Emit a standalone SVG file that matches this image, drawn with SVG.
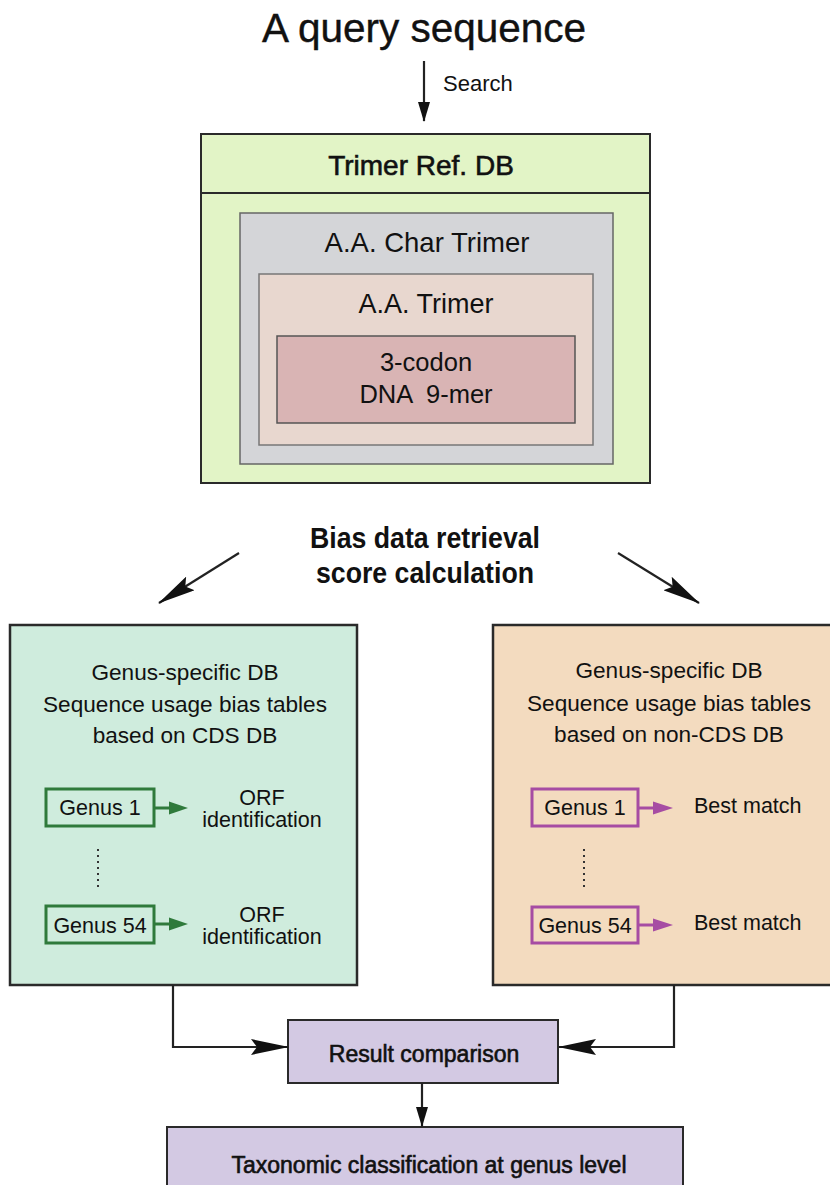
<svg xmlns="http://www.w3.org/2000/svg" width="830" height="1185" viewBox="0 0 830 1185">
<style>
text{font-family:"Liberation Sans",Arial,sans-serif;fill:#111;text-anchor:middle}
.b{font-weight:bold}
.m{stroke:#111;stroke-width:0.6}
.box{stroke:#2a2a2a;stroke-width:2.5}
.ln{fill:none;stroke:#222;stroke-width:2.2}
.g{fill:none;stroke:#2f7a3b;stroke-width:3}
.p{fill:none;stroke:#a64ca3;stroke-width:3}
.t{font-size:22.6px}
.s{font-size:21.5px}
</style>
<defs>
<marker id="aL" viewBox="0 0 38 16" refX="37" refY="8" markerWidth="38" markerHeight="16" markerUnits="userSpaceOnUse" orient="auto">
<path d="M0,0 L38,8 L0,16 L6,8 z" fill="#111"/>
</marker>
<marker id="aS" viewBox="0 0 20 12" refX="19" refY="6" markerWidth="20" markerHeight="12" markerUnits="userSpaceOnUse" orient="auto">
<path d="M0,0 L20,6 L0,12 z" fill="#111"/>
</marker>
</defs>

<g id="title"><text x="424" y="42" font-size="40.5" class="m" style="stroke-width:0.4">A query sequence</text></g>
<text x="443" y="91" font-size="22" style="text-anchor:start">Search</text>

<g id="trimer-ref-db">
<rect x="201" y="134" width="449" height="349" fill="#e2f4c6" class="box" style="stroke-width:2"/>
<line x1="201" y1="193" x2="650" y2="193" stroke="#2a2a2a" stroke-width="2"/>
<text x="421" y="175" font-size="28" class="m">Trimer Ref. DB</text>
</g>
<g id="aa-char-trimer">
<rect x="240" y="213" width="373" height="251" fill="#d4d5d8" stroke="#666" stroke-width="1.5"/>
<text x="427" y="252" font-size="27.5">A.A. Char Trimer</text>
</g>
<g id="aa-trimer">
<rect x="259" y="274" width="334" height="171" fill="#e8d7cf" stroke="#777" stroke-width="1.5"/>
<text x="426" y="313" font-size="27">A.A. Trimer</text>
</g>
<g id="dna-9mer">
<rect x="277" y="336" width="298" height="87" fill="#d9b4b4" stroke="#555" stroke-width="1.5"/>
<text x="426" y="371" font-size="25.5">3-codon</text>
<text x="426" y="403" font-size="25.5" xml:space="preserve">DNA  9-mer</text>
</g>

<g id="bias-label">
<text x="425" y="548" font-size="29" class="b" textLength="230" lengthAdjust="spacingAndGlyphs">Bias data retrieval</text>
<text x="425" y="583" font-size="29" class="b" textLength="218" lengthAdjust="spacingAndGlyphs">score calculation</text>
</g>

<g id="cds-db">
<rect x="10" y="625" width="347" height="360" fill="#cfecdd" class="box"/>
<text x="185" y="680" class="t">Genus-specific DB</text>
<text x="185" y="712" class="t">Sequence usage bias tables</text>
<text x="185" y="743" class="t">based on CDS DB</text>
<rect x="46" y="789" width="108" height="37" class="g"/>
<text x="100" y="815" class="s">Genus 1</text>
<line x1="154" y1="808" x2="172" y2="808" stroke="#2f7a3b" stroke-width="3"/>
<polygon points="169,801.5 188,808 169,814.5" fill="#2f7a3b"/>
<text x="262" y="805" class="s">ORF</text>
<text x="262" y="827" class="s">identification</text>
<line x1="98" y1="849" x2="98" y2="888" stroke="#333" stroke-width="2" stroke-dasharray="2 4"/>
<rect x="46" y="906" width="108" height="37" class="g"/>
<text x="100" y="933" class="s">Genus 54</text>
<line x1="154" y1="924" x2="172" y2="924" stroke="#2f7a3b" stroke-width="3"/>
<polygon points="169,917.5 188,924 169,930.5" fill="#2f7a3b"/>
<text x="262" y="922" class="s">ORF</text>
<text x="262" y="944" class="s">identification</text>
</g>

<g id="noncds-db">
<rect x="493" y="625" width="345" height="360" fill="#f3dbbf" class="box"/>
<text x="669" y="678" class="t">Genus-specific DB</text>
<text x="669" y="711" class="t">Sequence usage bias tables</text>
<text x="669" y="742" class="t">based on non-CDS DB</text>
<rect x="532" y="789" width="106" height="37" class="p"/>
<text x="585" y="815" class="s">Genus 1</text>
<line x1="638" y1="808" x2="656" y2="808" stroke="#a64ca3" stroke-width="3"/>
<polygon points="653,801.5 673,808 653,814.5" fill="#a64ca3"/>
<text x="694" y="813" class="s" style="text-anchor:start">Best match</text>
<line x1="584" y1="849" x2="584" y2="888" stroke="#333" stroke-width="2" stroke-dasharray="2 4"/>
<rect x="532" y="907" width="106" height="36" class="p"/>
<text x="585" y="933" class="s">Genus 54</text>
<line x1="638" y1="925" x2="656" y2="925" stroke="#a64ca3" stroke-width="3"/>
<polygon points="653,918.5 673,925 653,931.5" fill="#a64ca3"/>
<text x="694" y="930" class="s" style="text-anchor:start">Best match</text>
</g>

<g id="result-comparison">
<rect x="288" y="1020" width="270" height="63" fill="#d3c9e3" class="box" style="stroke-width:2"/>
<text x="424" y="1062" font-size="23" class="m">Result comparison</text>
</g>

<g id="taxonomic">
<rect x="167" y="1127" width="516" height="70" fill="#d3c9e3" class="box" style="stroke-width:2"/>
<text x="429" y="1173" font-size="23" class="m">Taxonomic classification at genus level</text>
</g>

<g id="connectors">
<line x1="424" y1="61" x2="424" y2="121" class="ln" marker-end="url(#aS)"/>
<line x1="239" y1="553" x2="159" y2="603" class="ln" marker-end="url(#aL)"/>
<line x1="618" y1="553" x2="699" y2="603" class="ln" marker-end="url(#aL)"/>
<path d="M173,985 V1047 H288" class="ln" marker-end="url(#aL)"/>
<path d="M674,985 V1047 H559" class="ln" marker-end="url(#aL)"/>
<line x1="422" y1="1083" x2="422" y2="1126" class="ln" marker-end="url(#aS)"/>
</g>
</svg>
